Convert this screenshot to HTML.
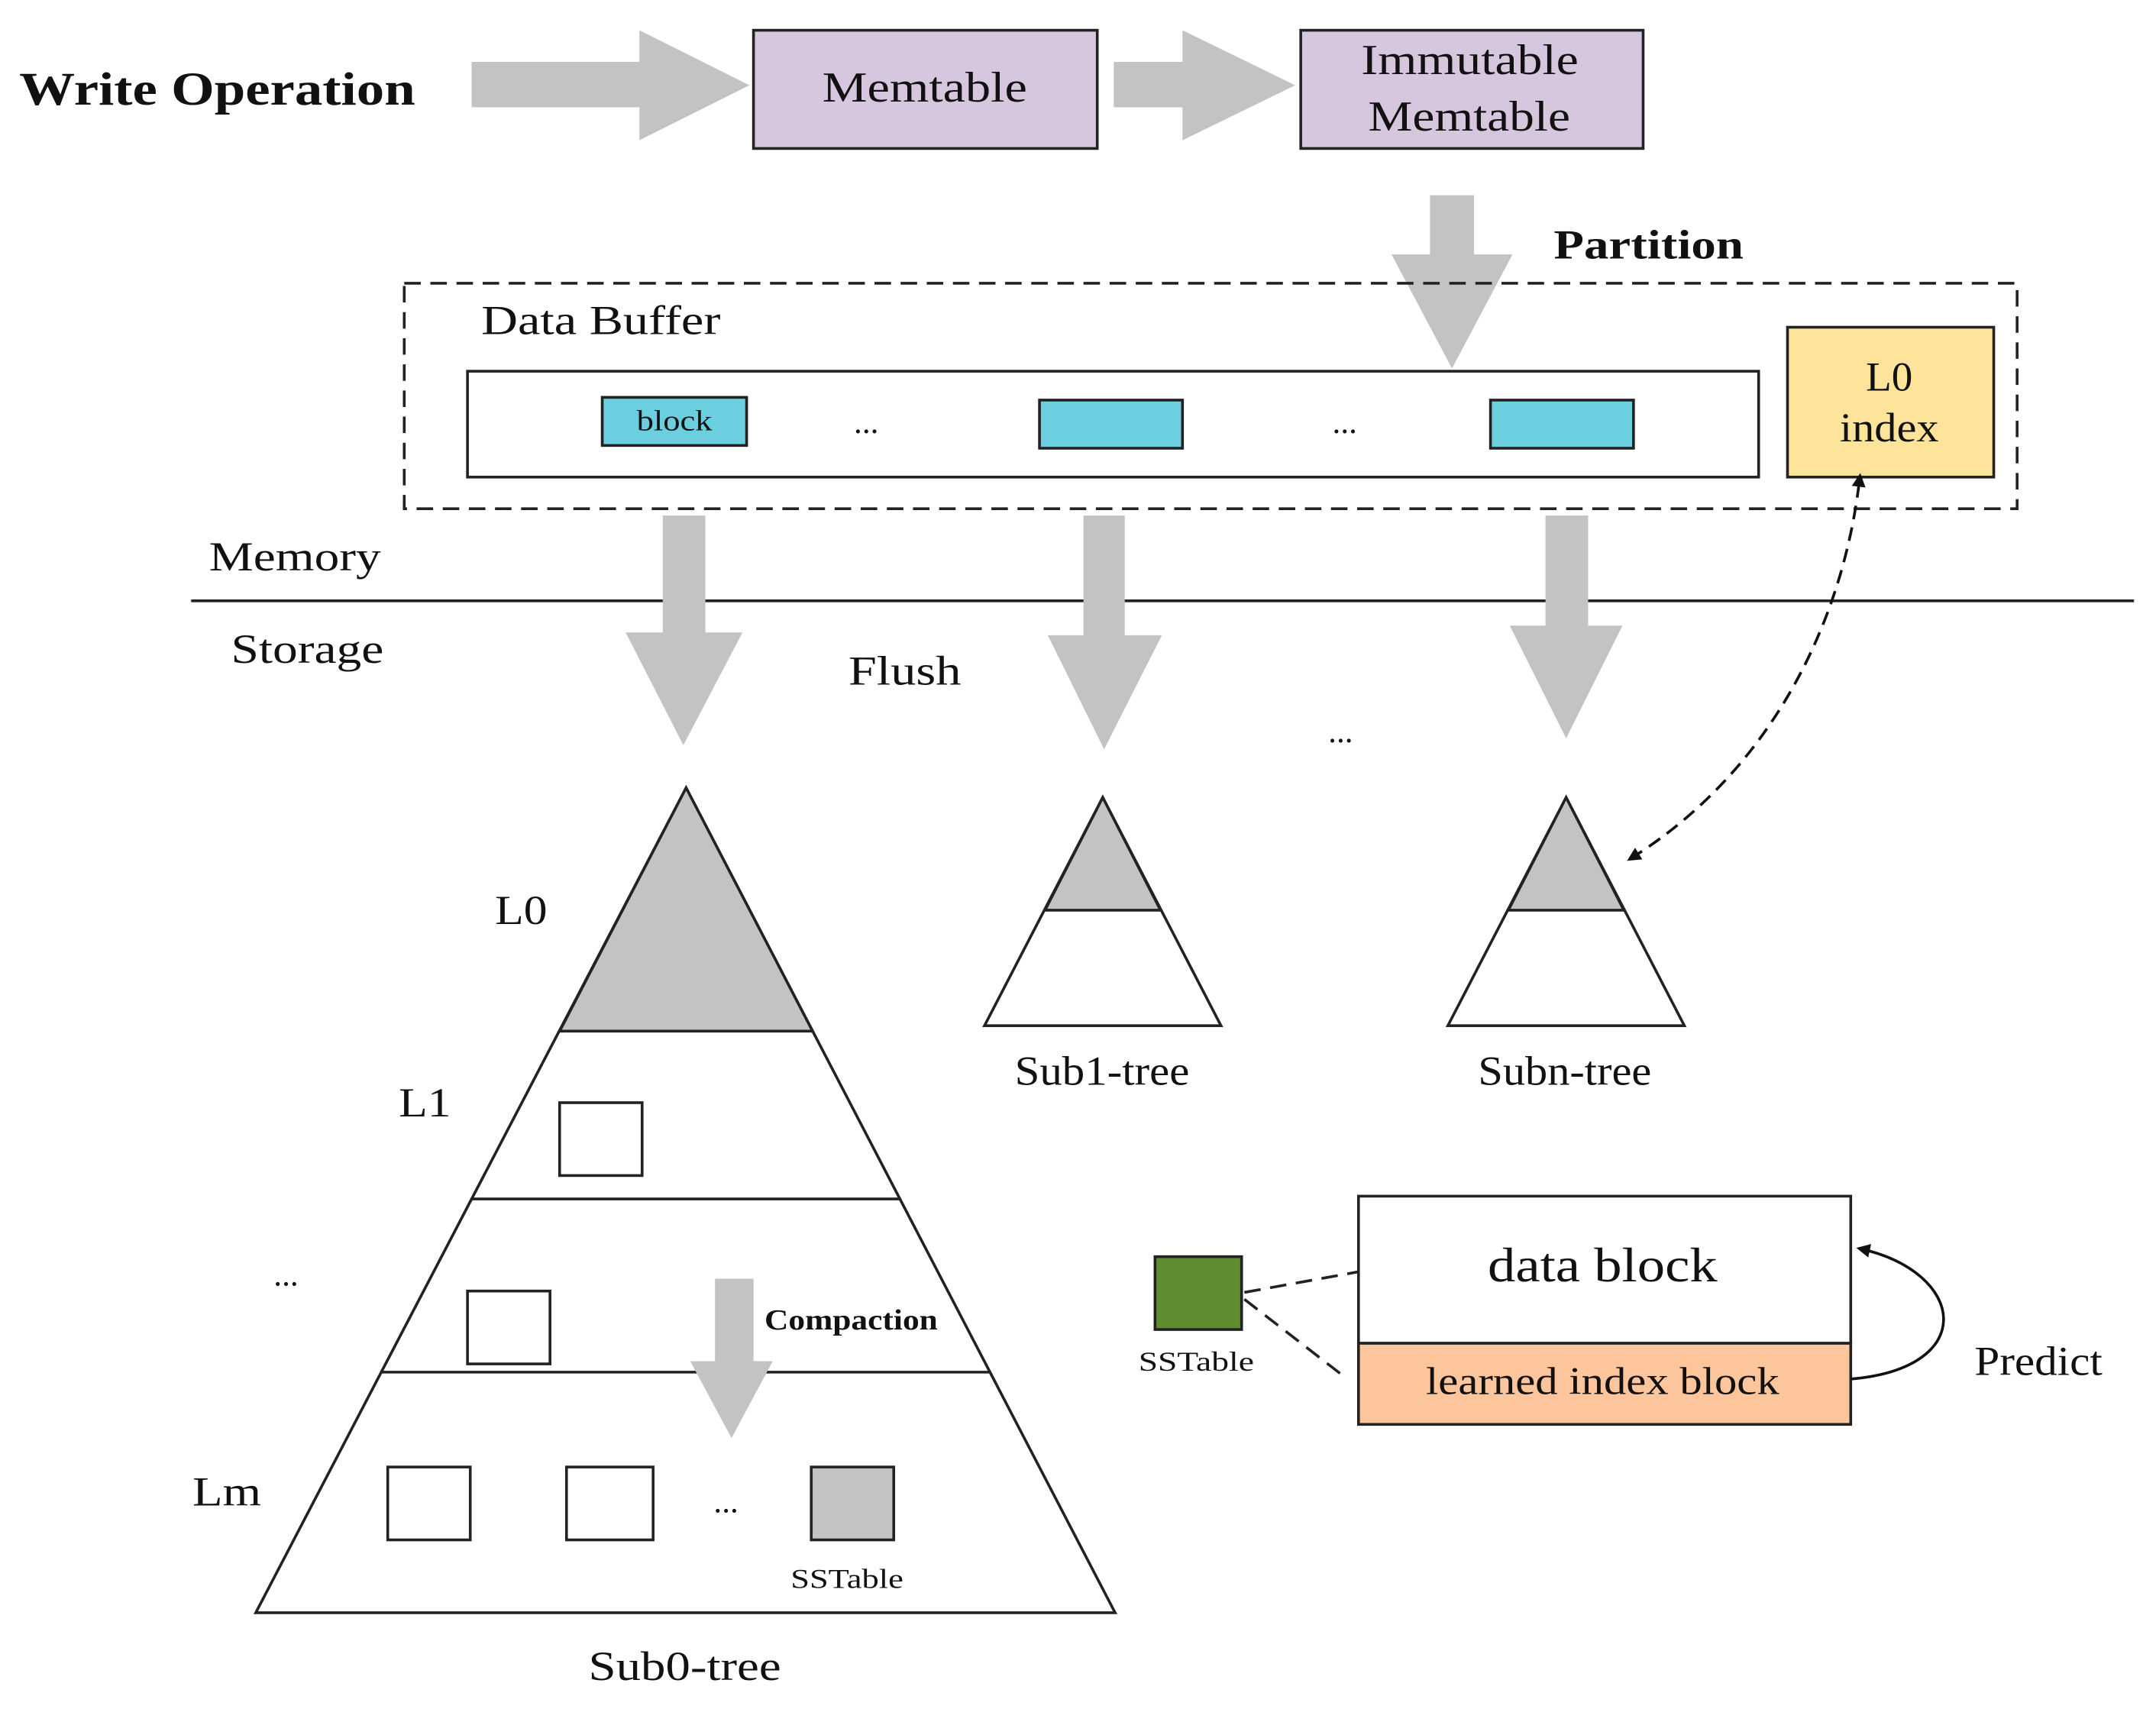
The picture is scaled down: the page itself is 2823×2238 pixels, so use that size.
<!DOCTYPE html>
<html><head><meta charset="utf-8"><style>
html,body{margin:0;padding:0;background:#fff;}
svg{display:block;}
text{font-family:"Liberation Serif",serif;fill:#111;}
</style></head><body>
<svg width="2823" height="2238" viewBox="0 0 1568 1243" preserveAspectRatio="none" xmlns="http://www.w3.org/2000/svg">
<defs>
<marker id="ah" markerWidth="10" markerHeight="10" refX="8" refY="5" orient="auto" markerUnits="userSpaceOnUse"><path d="M0,0 L10,5 L0,10 z" fill="#111"/></marker>
<marker id="ahs" markerWidth="10" markerHeight="10" refX="2" refY="5" orient="auto-start-reverse" markerUnits="userSpaceOnUse"><path d="M0,0 L10,5 L0,10 z" fill="#111"/></marker>
</defs>
<text x="14" y="76" font-size="34" font-weight="bold" textLength="288" lengthAdjust="spacingAndGlyphs">Write Operation</text>
<polygon points="343,45 465,45 465,22 545,62 465,102 465,78 343,78" fill="#c3c3c3"/>
<rect x="548" y="22" width="250" height="86" fill="#d6c6de" stroke="#222" stroke-width="2"/>
<text x="598" y="74" font-size="31" textLength="149" lengthAdjust="spacingAndGlyphs">Memtable</text>
<polygon points="810,45 860,45 860,22 942,62 860,102 860,78 810,78" fill="#c3c3c3"/>
<rect x="946" y="22" width="249" height="86" fill="#d6c6de" stroke="#222" stroke-width="2"/>
<text x="990" y="54" font-size="31" textLength="158" lengthAdjust="spacingAndGlyphs">Immutable</text>
<text x="995" y="95" font-size="31" textLength="147" lengthAdjust="spacingAndGlyphs">Memtable</text>
<polygon points="1040,142 1072,142 1072,185 1100,185 1056,268 1012,185 1040,185" fill="#c3c3c3"/>
<text x="1130" y="188" font-size="30" font-weight="bold" textLength="138" lengthAdjust="spacingAndGlyphs">Partition</text>
<rect x="294" y="206" width="1173" height="164" fill="none" stroke="#222" stroke-width="2" stroke-dasharray="12,7"/>
<text x="350" y="243" font-size="30" textLength="174" lengthAdjust="spacingAndGlyphs">Data Buffer</text>
<rect x="340" y="270" width="939" height="77" fill="#fff" stroke="#222" stroke-width="2"/>
<rect x="438" y="289" width="105" height="35" fill="#6ccfdf" stroke="#222" stroke-width="2"/>
<text x="463" y="313" font-size="21" textLength="55" lengthAdjust="spacingAndGlyphs">block</text>
<rect x="756" y="291" width="104" height="35" fill="#6ccfdf" stroke="#222" stroke-width="2"/>
<rect x="1084" y="291" width="104" height="35" fill="#6ccfdf" stroke="#222" stroke-width="2"/>
<text x="630" y="315" font-size="24" text-anchor="middle">...</text>
<text x="978" y="315" font-size="24" text-anchor="middle">...</text>
<rect x="1300" y="238" width="150" height="109" fill="#fde49a" stroke="#222" stroke-width="2"/>
<text x="1357" y="284" font-size="30" textLength="34" lengthAdjust="spacingAndGlyphs">L0</text>
<text x="1338" y="321" font-size="30" textLength="72" lengthAdjust="spacingAndGlyphs">index</text>
<text x="152" y="415" font-size="30" textLength="125" lengthAdjust="spacingAndGlyphs">Memory</text>
<line x1="139" y1="437" x2="1552" y2="437" stroke="#222" stroke-width="2"/>
<text x="168" y="482" font-size="30" textLength="111" lengthAdjust="spacingAndGlyphs">Storage</text>
<polygon points="482,375 513,375 513,460 540,460 497,542 455,460 482,460" fill="#c3c3c3"/>
<polygon points="788,375 818,375 818,462 845,462 803,545 762,462 788,462" fill="#c3c3c3"/>
<polygon points="1124,375 1155,375 1155,455 1180,455 1139,537 1098,455 1124,455" fill="#c3c3c3"/>
<text x="617" y="498" font-size="30" textLength="82" lengthAdjust="spacingAndGlyphs">Flush</text>
<text x="975" y="540" font-size="24" text-anchor="middle">...</text>
<polygon points="499,573 811,1173 186,1173" fill="#fff" stroke="#222" stroke-width="2"/>
<polygon points="499,573 591,750 407,750" fill="#c3c3c3" stroke="#222" stroke-width="2"/>
<line x1="343" y1="872" x2="655" y2="872" stroke="#222" stroke-width="2"/>
<line x1="278" y1="998" x2="720" y2="998" stroke="#222" stroke-width="2"/>
<text x="360" y="672" font-size="30" textLength="38" lengthAdjust="spacingAndGlyphs">L0</text>
<text x="290" y="812" font-size="30" textLength="38" lengthAdjust="spacingAndGlyphs">L1</text>
<text x="208" y="935" font-size="24" text-anchor="middle">...</text>
<text x="140" y="1095" font-size="30" textLength="50" lengthAdjust="spacingAndGlyphs">Lm</text>
<rect x="407" y="802" width="60" height="53" fill="#fff" stroke="#222" stroke-width="2"/>
<rect x="340" y="939" width="60" height="53" fill="#fff" stroke="#222" stroke-width="2"/>
<rect x="282" y="1067" width="60" height="53" fill="#fff" stroke="#222" stroke-width="2"/>
<rect x="412" y="1067" width="63" height="53" fill="#fff" stroke="#222" stroke-width="2"/>
<rect x="590" y="1067" width="60" height="53" fill="#c3c3c3" stroke="#222" stroke-width="2"/>
<text x="528" y="1100" font-size="24" text-anchor="middle">...</text>
<text x="575" y="1155" font-size="20" textLength="82" lengthAdjust="spacingAndGlyphs">SSTable</text>
<polygon points="520,930 548,930 548,990 562,990 532,1046 502,990 520,990" fill="#c3c3c3"/>
<text x="556" y="967" font-size="21" font-weight="bold" textLength="126" lengthAdjust="spacingAndGlyphs">Compaction</text>
<text x="428" y="1222" font-size="30" textLength="140" lengthAdjust="spacingAndGlyphs">Sub0-tree</text>
<polygon points="802,580 888,746 716,746" fill="#fff" stroke="#222" stroke-width="2"/>
<polygon points="802,580 844,662 760,662" fill="#c3c3c3" stroke="#222" stroke-width="2"/>
<text x="738" y="789" font-size="30" textLength="127" lengthAdjust="spacingAndGlyphs">Sub1-tree</text>
<polygon points="1139,580 1225,746 1053,746" fill="#fff" stroke="#222" stroke-width="2"/>
<polygon points="1139,580 1181,662 1097,662" fill="#c3c3c3" stroke="#222" stroke-width="2"/>
<text x="1075" y="789" font-size="30" textLength="126" lengthAdjust="spacingAndGlyphs">Subn-tree</text>
<path d="M1352,352 C1340,450 1290,560 1185,625" fill="none" stroke="#111" stroke-width="2" stroke-dasharray="10,6" marker-start="url(#ahs)" marker-end="url(#ah)"/>
<rect x="988" y="870" width="358" height="107" fill="#fff" stroke="#222" stroke-width="2"/>
<rect x="988" y="977" width="358" height="59" fill="#fcc59c" stroke="#222" stroke-width="2"/>
<text x="1082" y="932" font-size="35" textLength="167" lengthAdjust="spacingAndGlyphs">data block</text>
<text x="1037" y="1014" font-size="28" textLength="257" lengthAdjust="spacingAndGlyphs">learned index block</text>
<rect x="840" y="914" width="63" height="53" fill="#5f8c2f" stroke="#222" stroke-width="2"/>
<text x="828" y="997" font-size="20" textLength="84" lengthAdjust="spacingAndGlyphs">SSTable</text>
<line x1="905" y1="940" x2="988" y2="925" stroke="#222" stroke-width="2" stroke-dasharray="12,7"/>
<line x1="905" y1="945" x2="976" y2="1000" stroke="#222" stroke-width="2" stroke-dasharray="12,7"/>
<path d="M1346,1003 C1440,995 1430,925 1352,908" fill="none" stroke="#111" stroke-width="2" marker-end="url(#ah)"/>
<text x="1436" y="1000" font-size="30" textLength="93" lengthAdjust="spacingAndGlyphs">Predict</text>
</svg>
</body></html>
